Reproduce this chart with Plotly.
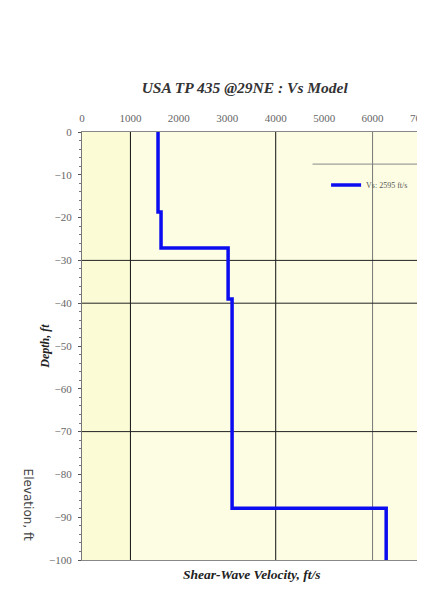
import plotly.graph_objects as go

# Data: Vs step profile (velocity ft/s, depth ft)
vs_values = [1570, 1570, 1632, 1632, 3017, 3017, 3099, 3099, 6281, 6281]
depths = [0, -18.7, -18.7, -27.1, -27.1, -39.0, -39.0, -87.9, -87.9, -100]
x_ticks = [0, 1000, 2000, 3000, 4000, 5000, 6000, 7000]
y_ticks = [0, -10, -20, -30, -40, -50, -60, -70, -80, -90, -100]
x_grid = [1000, 4000, 6000]
x_grid_colors = ["#111111", "#111111", "#777777"]
y_grid = [-30, -40, -70]
legend_label = "Vs: 2595 ft/s"

serif = "Liberation Serif"

fig = go.Figure()
fig.add_trace(go.Scatter(x=vs_values, y=depths, mode="lines",
                         line=dict(color="#0c0cf0", width=3.5),
                         name=legend_label, cliponaxis=False))

shapes = []
# left yellow band
shapes.append(dict(type="rect", xref="x", yref="y", x0=0, x1=1000, y0=0, y1=-100,
                   fillcolor="#fbfbd6", line=dict(width=0), layer="below"))
for gx, gc in zip(x_grid, x_grid_colors):
    shapes.append(dict(type="line", xref="x", yref="y", x0=gx, x1=gx, y0=0, y1=-100,
                       line=dict(color=gc, width=1), layer="below"))
for gy in y_grid:
    shapes.append(dict(type="line", xref="x", yref="y", x0=0, x1=7000, y0=gy, y1=gy,
                       line=dict(color="#222222", width=1), layer="below"))
# legend top border
shapes.append(dict(type="line", xref="paper", yref="paper", x0=0.68, x1=1.05, y0=0.925, y1=0.925,
                   line=dict(color="#888888", width=1)))

fig.update_layout(
    width=425, height=592,
    margin=dict(l=74, r=12, t=124, b=40, autoexpand=False),
    paper_bgcolor="white",
    plot_bgcolor="#fdfde4",
    showlegend=True,
    legend=dict(x=0.72, y=0.91, xanchor="left", yanchor="top",
                bgcolor="rgba(255,255,255,0)", borderwidth=0,
                font=dict(family=serif, size=8, color="#555555"),
                itemwidth=30),
    title=dict(text="<b><i>USA TP 435 @29NE : Vs Model</i></b>",
               x=0.557, xanchor="center", y=0.865, yanchor="middle",
               font=dict(family=serif, size=15.5, color="#333333")),
    shapes=shapes,
    xaxis=dict(range=[0, 7000], side="top", tickvals=x_ticks,
               ticktext=[str(v) for v in x_ticks], showgrid=False, zeroline=False,
               tickfont=dict(family=serif, size=11, color="#666666"),
               showline=True, linecolor="#888888", mirror=True, ticks="",
               automargin=False, ticklabelstandoff=5),
    yaxis=dict(range=[-100, 0], tickvals=y_ticks, showgrid=False, zeroline=False,
               tickfont=dict(family=serif, size=11, color="#666666"),
               showline=True, linecolor="#777777", mirror=True,
               ticks="outside", ticklen=3, tickcolor="#555555",
               minor=dict(dtick=2, ticks="outside", ticklen=2, tickcolor="#777777"),
               automargin=False, ticklabelstandoff=4),
    annotations=[
        dict(text="<b><i>Shear-Wave Velocity, ft/s</i></b>", xref="paper", yref="paper",
             x=0.5, y=-0.033, xanchor="center", yanchor="middle", showarrow=False,
             font=dict(family=serif, size=13.5, color="#222222")),
        dict(text="<b><i>Depth, ft</i></b>", xref="paper", yref="paper",
             x=-0.11, y=0.50, xanchor="center", yanchor="middle", showarrow=False,
             textangle=-90, font=dict(family=serif, size=12, color="#222222")),
        dict(text="Elevation, ft", xref="paper", yref="paper",
             x=-0.16, y=0.13, xanchor="center", yanchor="middle", showarrow=False,
             textangle=90, font=dict(family="DejaVu Sans", size=12, color="#444444")),
    ],
)

fig.write_html("out.html")
